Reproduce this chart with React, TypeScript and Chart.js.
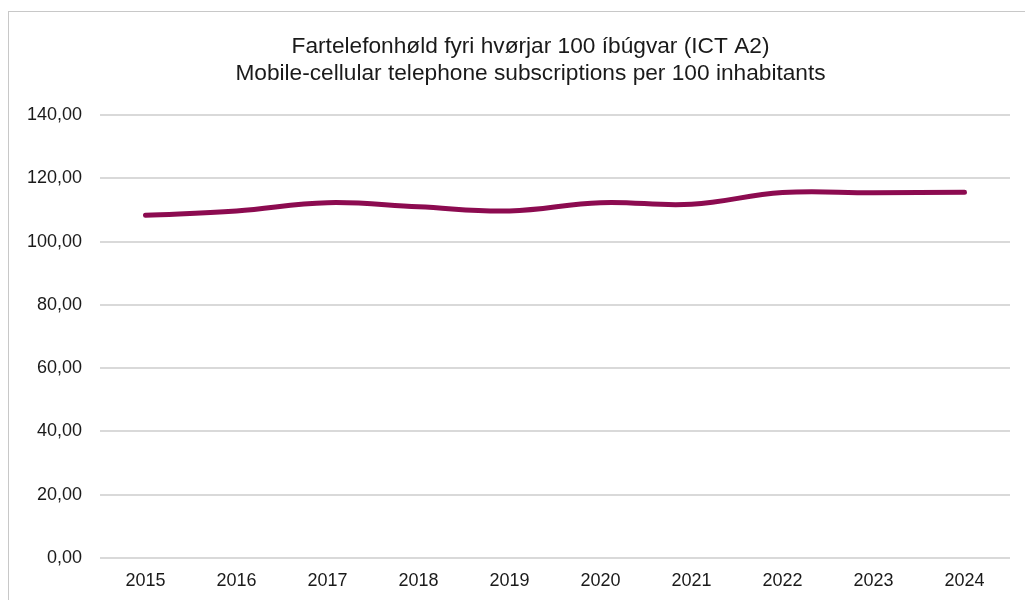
import React, { useEffect, useRef } from "react";
import { Chart, registerables } from "chart.js";

Chart.register(...registerables);

const titleLines = [
  "Fartelefonhøld fyri hvørjar 100 íbúgvar (ICT A2)",
  "Mobile-cellular telephone subscriptions per 100 inhabitants",
];
const years = ["2015", "2016", "2017", "2018", "2019", "2020", "2021", "2022", "2023", "2024"];
const subscriptions = [108.3, 109.7, 112.3, 111.0, 109.7, 112.3, 111.8, 115.5, 115.4, 115.6];
const yMin = 0;
const yMax = 140;
const yStep = 20;

export default function App() {
  const ref = useRef<HTMLCanvasElement | null>(null);

  useEffect(() => {
    if (!ref.current) return;
    const font = "'Liberation Sans', Arial, sans-serif";
    const chart = new Chart(ref.current, {
      type: "line",
      data: {
        labels: years,
        datasets: [
          {
            data: subscriptions,
            borderColor: "#8c0b50",
            backgroundColor: "#8c0b50",
            borderWidth: 5,
            borderCapStyle: "round",
            pointRadius: 0,
            tension: 0.4,
            fill: false,
            yAxisID: "y",
          },
        ],
      },
      options: {
        animation: false,
        responsive: false,
        maintainAspectRatio: false,
        layout: { padding: { left: 0, right: 0, top: 0, bottom: 0 } },
        plugins: {
          legend: { display: false },
          tooltip: { enabled: false },
          title: {
            display: true,
            text: titleLines,
            color: "#1a1a1a",
            font: { family: font, size: 22.7, weight: "normal", lineHeight: 1.19 },
            padding: { top: 21, bottom: 28 },
          },
        },
        scales: {
          x: {
            offset: true,
            grid: { display: false, drawTicks: false, offset: true },
            border: { display: false },
            ticks: {
              color: "#1a1a1a",
              font: { family: font, size: 18 },
              padding: 12,
              maxRotation: 0,
            },
            afterFit: (s: any) => {
              s.height = 42;
            },
          },
          y: {
            min: yMin,
            max: yMax,
            grid: { color: "#d9d9d9", lineWidth: 2, drawTicks: false },
            border: { display: false },
            ticks: {
              stepSize: yStep,
              color: "#1a1a1a",
              font: { family: font, size: 18 },
              padding: 18,
              callback: (v: any) => Number(v).toFixed(2).replace(".", ","),
            },
            afterFit: (s: any) => {
              s.width = 91;
            },
          },
          yRight: {
            position: "right",
            display: true,
            min: yMin,
            max: yMax,
            grid: { display: false, drawTicks: false },
            border: { display: false },
            ticks: { display: false },
            afterFit: (s: any) => {
              s.width = 42;
            },
          },
        },
      },
    });
    return () => chart.destroy();
  }, []);

  return (
    <div style={{ position: "fixed", left: 0, top: 0, width: 1025, height: 600, overflow: "hidden", background: "#fff" }}>
      <div
        style={{
          position: "absolute",
          left: 8,
          top: 11,
          width: 1043,
          height: 620,
          border: "1px solid #c8c8c8",
          background: "#fff",
        }}
      >
        <canvas ref={ref} width={1043} height={588} style={{ display: "block" }} />
      </div>
    </div>
  );
}
